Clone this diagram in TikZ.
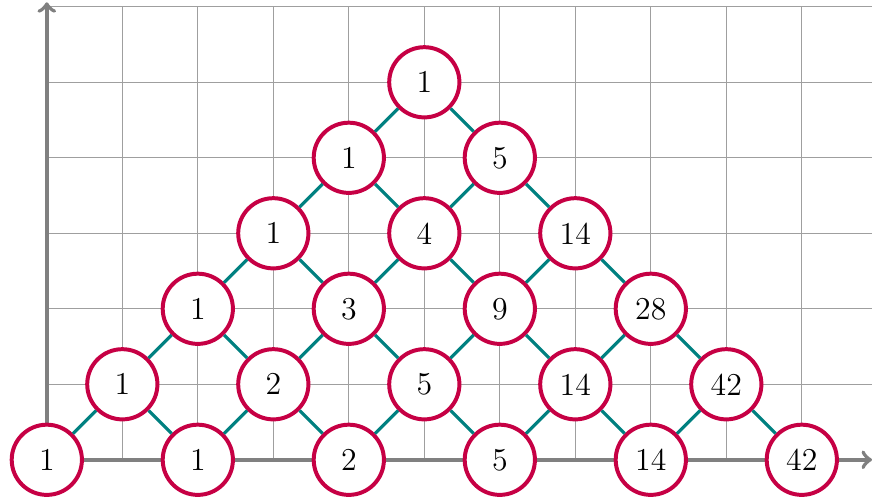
\documentclass[tikz,border=0pt]{standalone}
\definecolor{circcol}{RGB}{198,0,68}
\definecolor{edgecol}{RGB}{0,128,128}
\begin{document}
\begin{tikzpicture}[
  num/.style={circle, draw=circcol, line width=1.5pt, fill=white, minimum size=0.93cm, inner sep=0pt, font=\large},
  link/.style={edgecol, line width=1.2pt},
  axis/.style={gray, line width=1.5pt, ->},
  gridline/.style={gray!75, line width=0.4pt}
]
\useasboundingbox (-0.62,-0.49) rectangle (10.93,6.09);
\draw[gridline] (0,0) grid (10.93,6);
\draw[gridline] (0,6) -- (10.93,6);
\draw[axis] (0,0) -- (10.93,0);
\draw[axis] (0,0) -- (0,6.06);
% nodes
\node[num] (a00) at (0,0) {1};
\node[num] (a20) at (2,0) {1};
\node[num] (a40) at (4,0) {2};
\node[num] (a60) at (6,0) {5};
\node[num] (a80) at (8,0) {14};
\node[num] (a100) at (10,0) {42};
\node[num] (a11) at (1,1) {1};
\node[num] (a31) at (3,1) {2};
\node[num] (a51) at (5,1) {5};
\node[num] (a71) at (7,1) {14};
\node[num] (a91) at (9,1) {42};
\node[num] (a22) at (2,2) {1};
\node[num] (a42) at (4,2) {3};
\node[num] (a62) at (6,2) {9};
\node[num] (a82) at (8,2) {28};
\node[num] (a33) at (3,3) {1};
\node[num] (a53) at (5,3) {4};
\node[num] (a73) at (7,3) {14};
\node[num] (a44) at (4,4) {1};
\node[num] (a64) at (6,4) {5};
\node[num] (a55) at (5,5) {1};
% links
\foreach \a/\b in {a00/a11,a11/a20,a20/a31,a31/a40,a40/a51,a51/a60,a60/a71,a71/a80,a80/a91,a91/a100,
  a11/a22,a22/a31,a31/a42,a42/a51,a51/a62,a62/a71,a71/a82,a82/a91,
  a22/a33,a33/a42,a42/a53,a53/a62,a62/a73,a73/a82,
  a33/a44,a44/a53,a53/a64,a64/a73,
  a44/a55,a55/a64}
  \draw[link] (\a) -- (\b);
\end{tikzpicture}
\end{document}
